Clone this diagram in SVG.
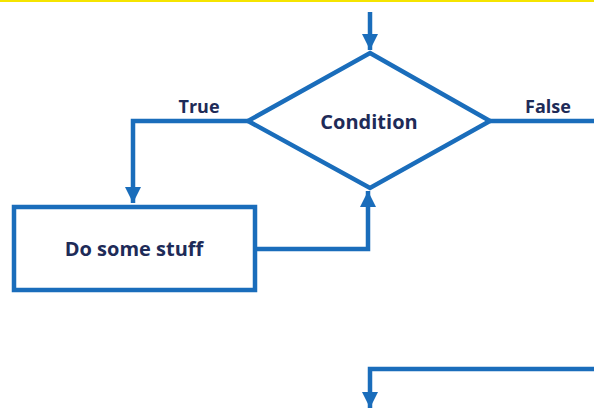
<svg xmlns="http://www.w3.org/2000/svg" width="594" height="408" viewBox="0 0 594 408">
<defs>
<style>
.ln{fill:none;stroke:#1a6dbb;stroke-width:4.5}
.sh{fill:#fff;stroke:#1a6dbb;stroke-width:4.5}
.tx{font-family:"Open Sans","Liberation Sans",sans-serif;font-weight:bold;font-size:20px;fill:#1e2b58;text-anchor:middle;dominant-baseline:central}
.lb{font-size:18px}
</style>
<marker id="ah" viewBox="0 0 10 10" refX="10" refY="5" markerWidth="3.6" markerHeight="3.6" orient="auto" markerUnits="strokeWidth">
<path d="M0,0 L10,5 L0,10 z" fill="#1a6dbb"/>
</marker>
</defs>
<rect x="0" y="0" width="594" height="408" fill="#fff"/>
<rect x="0" y="0" width="594" height="2" fill="#f5e400"/>
<g id="connectors">
<path class="ln" d="M370,12 V50" marker-end="url(#ah)"/>
<path class="ln" d="M248,121 H133 V203" marker-end="url(#ah)"/>
<path class="ln" d="M255,249 H368 V191" marker-end="url(#ah)"/>
<path class="ln" d="M490,121 H594"/>
<path class="ln" d="M594,369 H370 V408" marker-end="url(#ah)"/>
<text class="tx lb" x="199" y="106">True</text>
<text class="tx lb" x="548" y="106">False</text>
</g>
<g id="condition">
<polygon class="sh" points="370,53 490,121 370,188 248,121"/>
<text class="tx" x="369" y="121">Condition</text>
</g>
<g id="do-some-stuff">
<rect class="sh" x="14" y="207" width="241" height="83"/>
<text class="tx" x="134" y="248">Do some stuff</text>
</g>
</svg>
